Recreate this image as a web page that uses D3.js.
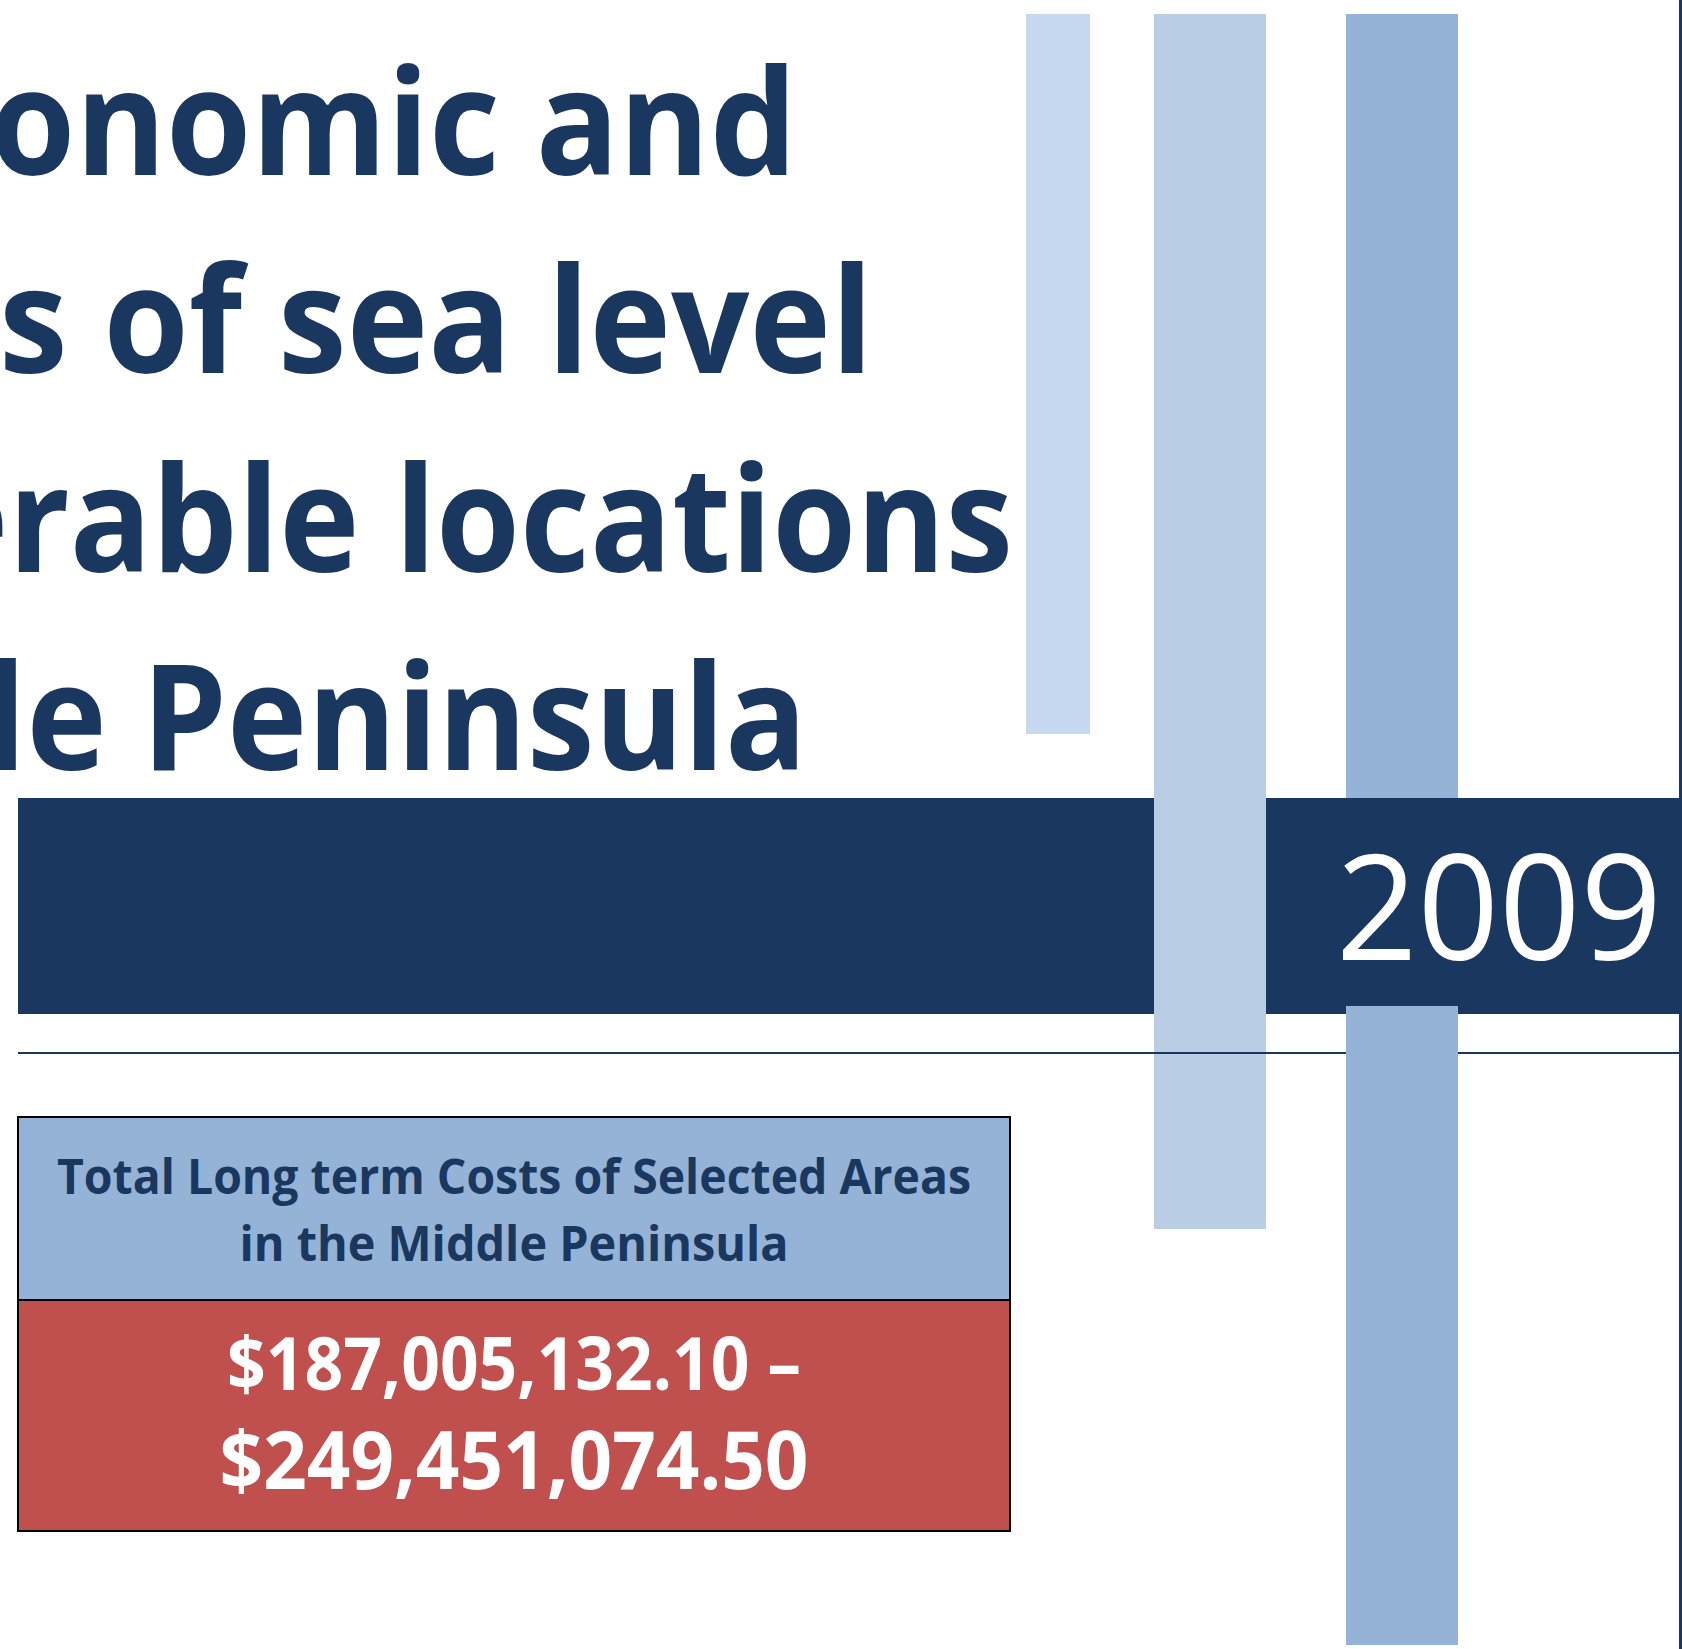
<!DOCTYPE html>
<html>
<head>
<meta charset="utf-8">
<script src="https://cdn.jsdelivr.net/npm/d3@7"></script>
<style>
  body { margin: 0; background: #fff; }
  svg { display: block; }
</style>
</head>
<body>
<svg id="chart" width="1682" height="1649"></svg>
<script>
// page content
const titleLines = ["onomic and", "s of sea level", "erable locations", "le Peninsula"];
const reportYear = "2009";
const boxHeading = ["Total Long term Costs of Selected Areas", "in the Middle Peninsula"];
const costRange = [187005132.10, 249451074.50];

const navy = "#1a375f";
const money = d3.format("$,.2f");

const svg = d3.select("#chart");
const width = +svg.attr("width");
const height = +svg.attr("height");
const font = "'Open Sans', 'DejaVu Sans', sans-serif";

// vertical page scale for the title lines
const titleY = d3.scalePoint()
  .domain(d3.range(titleLines.length))
  .range([175, 770]);

// decorative stripes, back to front
const backStripes = [
  {x: 1026, w: 64, y0: 14, y1: 734, fill: "#c6d9f1"},
  {x: 1346, w: 112, y0: 14, y1: 798, fill: "#95b3d7"}
];
svg.selectAll("rect.back")
  .data(backStripes)
  .join("rect")
  .attr("class", "back")
  .attr("x", d => d.x).attr("y", d => d.y0)
  .attr("width", d => d.w).attr("height", d => d.y1 - d.y0)
  .attr("fill", d => d.fill);

// title, clipped on the left like the cover
const titleFit = [[-10, 807], [-1, 874], [-72, 1085], [-15, 822]];
svg.append("g")
  .selectAll("text")
  .data(titleLines)
  .join("text")
  .attr("x", (d, i) => titleFit[i][0])
  .attr("y", (d, i) => titleY(i))
  .attr("textLength", (d, i) => titleFit[i][1])
  .attr("lengthAdjust", "spacingAndGlyphs")
  .style("font-family", font)
  .style("font-weight", 700)
  .style("font-size", "148px")
  .attr("fill", navy)
  .text(d => d);

// dark band with the year
svg.append("rect")
  .attr("x", 18).attr("y", 798)
  .attr("width", width - 18).attr("height", 216)
  .attr("fill", navy);

svg.append("rect")
  .attr("x", 1154).attr("y", 14)
  .attr("width", 112).attr("height", 1229 - 14)
  .attr("fill", "#b9cde5");

svg.append("line")
  .attr("x1", 18).attr("x2", width)
  .attr("y1", 1053).attr("y2", 1053)
  .attr("stroke", navy).attr("stroke-width", 2);

svg.append("rect")
  .attr("x", 1346).attr("y", 1006)
  .attr("width", 112).attr("height", 1645 - 1006)
  .attr("fill", "#95b3d7");

svg.append("text")
  .attr("x", 1336).attr("y", 960)
  .attr("textLength", 326)
  .attr("lengthAdjust", "spacingAndGlyphs")
  .style("font-family", font)
  .style("font-size", "146px")
  .attr("fill", "#fff")
  .text(reportYear);

// right page edge
svg.append("line")
  .attr("x1", width - 1.5).attr("x2", width - 1.5)
  .attr("y1", 0).attr("y2", height)
  .attr("stroke", navy).attr("stroke-width", 3);

// cost box
const box = {x: 18, y: 1117, w: 992, split: 1300, bottom: 1531};
const cx = box.x + box.w / 2;

svg.append("rect")
  .attr("x", box.x).attr("y", box.y)
  .attr("width", box.w).attr("height", box.split - box.y)
  .attr("fill", "#95b3d7").attr("stroke", "#000").attr("stroke-width", 2);

svg.append("rect")
  .attr("x", box.x).attr("y", box.split)
  .attr("width", box.w).attr("height", box.bottom - box.split)
  .attr("fill", "#c0504d").attr("stroke", "#000").attr("stroke-width", 2);

const headFit = [{y: 1194, len: 914}, {y: 1261, len: 549}];
svg.append("g")
  .selectAll("text")
  .data(boxHeading)
  .join("text")
  .attr("x", cx)
  .attr("y", (d, i) => headFit[i].y)
  .attr("text-anchor", "middle")
  .attr("textLength", (d, i) => headFit[i].len)
  .attr("lengthAdjust", "spacingAndGlyphs")
  .style("font-family", font)
  .style("font-weight", 700)
  .style("font-size", "49px")
  .attr("fill", navy)
  .text(d => d);

const costFit = [{y: 1390, len: 574, size: 74}, {y: 1489, len: 589, size: 80}];
svg.append("g")
  .selectAll("text")
  .data(costRange)
  .join("text")
  .attr("x", cx)
  .attr("y", (d, i) => costFit[i].y)
  .attr("text-anchor", "middle")
  .attr("textLength", (d, i) => costFit[i].len)
  .attr("lengthAdjust", "spacingAndGlyphs")
  .style("font-family", font)
  .style("font-weight", 700)
  .style("font-size", (d, i) => costFit[i].size + "px")
  .attr("fill", "#fff")
  .text((d, i) => i === 0 ? money(d) + " \u2013" : money(d));
</script>
</body>
</html>
